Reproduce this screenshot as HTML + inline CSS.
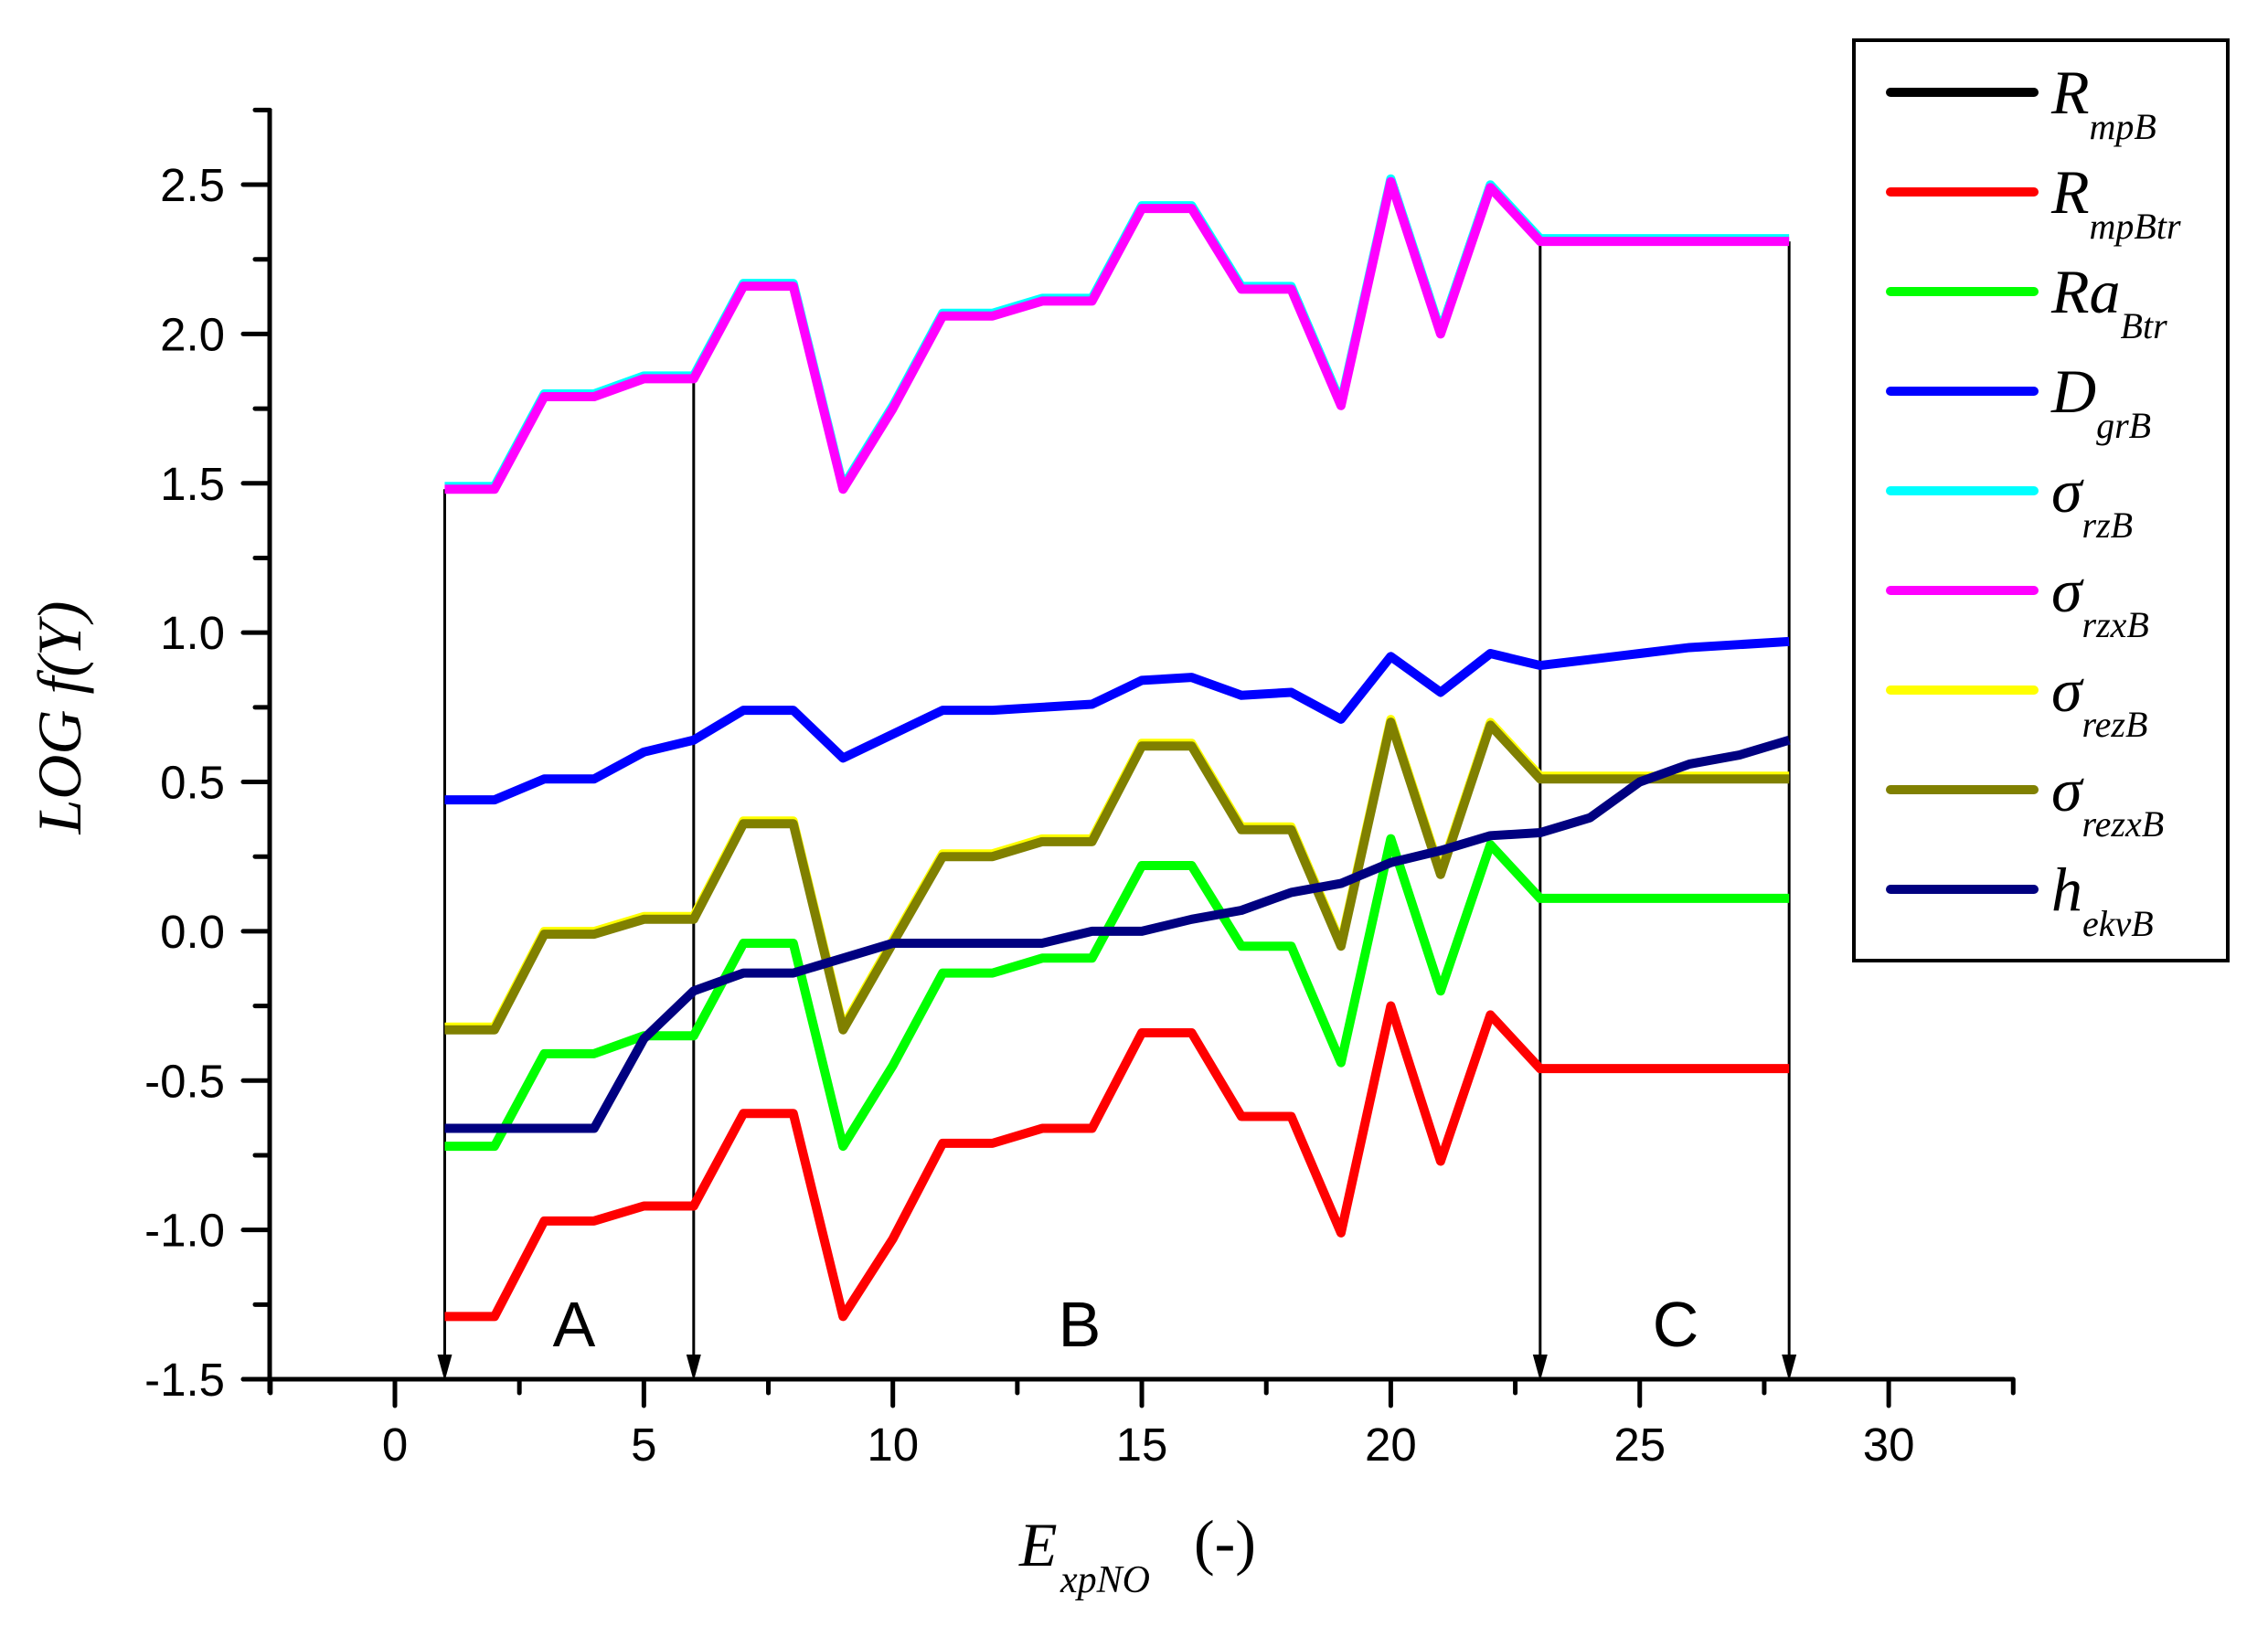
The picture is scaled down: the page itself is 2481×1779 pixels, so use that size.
<!DOCTYPE html>
<html><head><meta charset="utf-8"><style>html,body{margin:0;padding:0;background:#fff}svg{display:block}</style></head>
<body>
<svg id="s" width="2481" height="1779" viewBox="0 0 2481 1779" xmlns="http://www.w3.org/2000/svg">
<rect width="2481" height="1779" fill="#fff"/>
<g id="g"></g>
<text x="628" y="1473" font-family="Liberation Sans, sans-serif" font-size="70" text-anchor="middle">A</text>
<text x="1181" y="1473" font-family="Liberation Sans, sans-serif" font-size="70" text-anchor="middle">B</text>
<text x="1833" y="1473" font-family="Liberation Sans, sans-serif" font-size="70" text-anchor="middle">C</text>
<text transform="translate(88,785) rotate(-90)" font-family="Liberation Serif, serif" font-style="italic" font-size="68" text-anchor="middle">LOG f(Y)</text>
<text x="1115" y="1713" font-family="Liberation Serif, serif" font-style="italic" font-size="68">E</text>
<text x="1160" y="1742" font-family="Liberation Serif, serif" font-style="italic" font-size="42">xpNO</text>
<text x="1306" y="1710" font-family="Liberation Serif, serif" font-size="68">(-)</text>
<rect x="2028" y="44" width="409" height="1007" fill="none" stroke="#000" stroke-width="4"/>
</svg>
<script>
const NS="http://www.w3.org/2000/svg",g=document.getElementById('g');
function el(t,a,txt){const e=document.createElementNS(NS,t);for(const k in a)e.setAttribute(k,a[k]);if(txt!==undefined)e.textContent=txt;g.appendChild(e);return e;}
const X=n=>432+n*54.47, Y=v=>202+(2.5-v)*326.75;
const mag=[1.48,1.48,1.79,1.79,1.85,1.85,2.16,2.16,1.48,1.75,2.06,2.06,2.11,2.11,2.42,2.42,2.15,2.15,1.76,2.51,2.00,2.49,2.31,2.31,2.31,2.31,2.31,2.31];
const blue=[0.44,0.44,0.51,0.51,0.60,0.64,0.74,0.74,0.58,0.66,0.74,0.74,0.75,0.76,0.84,0.85,0.79,0.80,0.71,0.92,0.80,0.93,0.89,0.91,0.93,0.95,0.96,0.97];
const oli=[-0.33,-0.33,-0.01,-0.01,0.04,0.04,0.36,0.36,-0.33,-0.04,0.25,0.25,0.30,0.30,0.62,0.62,0.34,0.34,-0.05,0.70,0.19,0.69,0.51,0.51,0.51,0.51,0.51,0.51];
const grn=[-0.72,-0.72,-0.41,-0.41,-0.35,-0.35,-0.04,-0.04,-0.72,-0.45,-0.14,-0.14,-0.09,-0.09,0.22,0.22,-0.05,-0.05,-0.44,0.31,-0.20,0.29,0.11,0.11,0.11,0.11,0.11,0.11];
const red=[-1.29,-1.29,-0.97,-0.97,-0.92,-0.92,-0.61,-0.61,-1.29,-1.03,-0.71,-0.71,-0.66,-0.66,-0.34,-0.34,-0.62,-0.62,-1.01,-0.25,-0.77,-0.28,-0.46,-0.46,-0.46,-0.46,-0.46,-0.46];
const nav=[-0.66,-0.66,-0.66,-0.66,-0.36,-0.20,-0.14,-0.14,-0.09,-0.04,-0.04,-0.04,-0.04,0.00,0.00,0.04,0.07,0.13,0.16,0.23,0.27,0.32,0.33,0.38,0.50,0.56,0.59,0.64];
function pl(d,c,off){el('polyline',{points:d.map((v,i)=>X(i+1)+','+(Y(v)-(off||0))).join(' '),fill:'none',stroke:c,'stroke-width':10,'stroke-linejoin':'round'});}
[[1,1.48],[6,1.85],[23,2.31],[28,2.31]].forEach(([n,v])=>{const x=X(n);el('line',{x1:x,y1:Y(v),x2:x,y2:1495,stroke:'#000','stroke-width':3});el('polygon',{points:`${x-8},1482 ${x+8},1482 ${x},1511`,fill:'#000'});});
pl(red,'#ff0000');pl(grn,'#00ff00');pl(oli,'#ffff00',3);pl(oli,'#808000');pl(nav,'#000080');pl(blue,'#0000ff');pl(mag,'#00ffff',3);pl(mag,'#ff00ff');
el('line',{x1:295,y1:119,x2:295,y2:1524,stroke:'#000','stroke-width':5});
el('line',{x1:265,y1:1509,x2:2203,y2:1509,stroke:'#000','stroke-width':5});
for(let v=-1.5;v<=2.76;v+=0.25){const y=Y(v),maj=Math.abs(v*2-Math.round(v*2))<1e-6;el('line',{x1:maj?266:279,y1:y,x2:295,y2:y,stroke:'#000','stroke-width':5,'stroke-linecap':'round'});
 if(maj)el('text',{x:246,y:y+18,'font-family':'Liberation Sans, sans-serif','font-size':51,'text-anchor':'end'},v.toFixed(1));}
for(let n=-2.5;n<=32.6;n+=2.5){const x=X(n),maj=Math.abs(n%5)<1e-6;el('line',{x1:x,y1:1509,x2:x,y2:maj?1538:1524,stroke:'#000','stroke-width':5,'stroke-linecap':'round'});
 if(maj)el('text',{x:x,y:1598,'font-family':'Liberation Sans, sans-serif','font-size':51,'text-anchor':'middle'},String(n));}
const L=[['#000','R','mpB'],['#ff0000','R','mpBtr'],['#00ff00','Ra','Btr'],['#0000ff','D','grB'],['#00ffff','σ','rzB'],['#ff00ff','σ','rzxB'],['#ffff00','σ','rezB'],['#808000','σ','rezxB'],['#000080','h','ekvB']];
L.forEach(([c,m,s],i)=>{const y=101+i*109;el('line',{x1:2068,y1:y,x2:2225,y2:y,stroke:c,'stroke-width':10,'stroke-linecap':'round'});
 const t=el('text',{x:2244,y:y+23,'font-family':'Liberation Serif, serif','font-style':'italic','font-size':68});
 const a=document.createElementNS(NS,'tspan');a.textContent=m;t.appendChild(a);
 const b=document.createElementNS(NS,'tspan');b.setAttribute('dy',28);b.setAttribute('font-size',40);b.textContent=s;t.appendChild(b);});
</script>
</body></html>
